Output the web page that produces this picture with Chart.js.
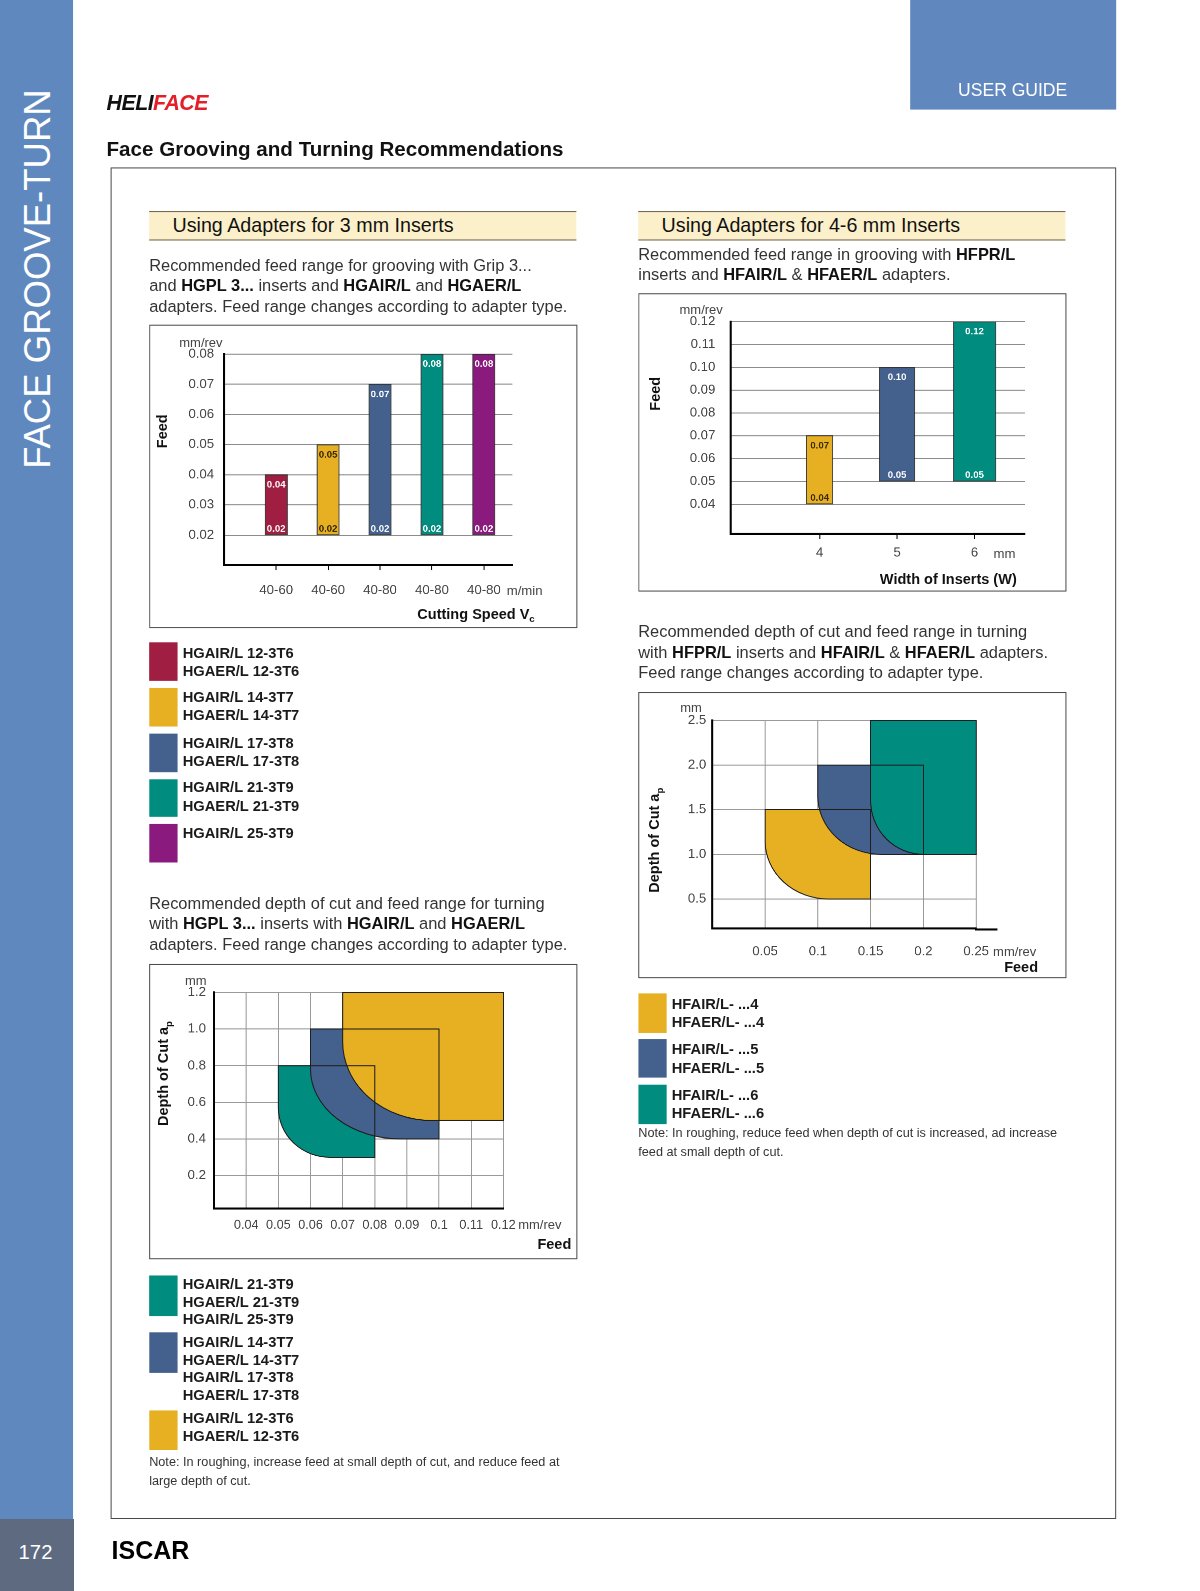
<!DOCTYPE html>
<html>
<head>
<meta charset="utf-8">
<script src="https://cdn.jsdelivr.net/npm/chart.js@4.4.1/dist/chart.umd.min.js"></script>
<style>
    body { margin: 0; width: 1200px; height: 1591px; position: relative; overflow: hidden; background: #fff;
           font-family: 'Liberation Sans', Arial, sans-serif; color: #222; }
    #page { position: absolute; left: 0; top: 0; width: 1183px; height: 1568px; transform: scale(1.0147); transform-origin: 0 0; }
    .abs { position: absolute; }
    .c { position: absolute; transform: translate(-50%, -50%); white-space: nowrap; }
    .r { position: absolute; transform: translate(-100%, -50%); white-space: nowrap; }
    .rot { position: absolute; transform: translate(-50%, -50%) rotate(-90deg); white-space: nowrap; }
    .box { position: absolute; border: 1px solid #4a4a4a; box-sizing: border-box; }
    .box > div { position: absolute; inset: 0; }
    .head { position: absolute; height: 29px; box-sizing: border-box; background: #fcf0cb;
            border-top: 1.5px solid #6b6350; border-bottom: 1.5px solid #6b6350;
            font-size: 19.4px; line-height: 26px; padding-left: 23px; color: #111; }
    .para { position: absolute; font-size: 16.2px; line-height: 20px; color: #333; white-space: nowrap; }
    .para b { color: #111; }
    .sw { position: absolute; left: 0; width: 28px; }
    .lg { position: absolute; font-size: 14.5px; font-weight: bold; line-height: 17.5px; color: #1a1a1a; white-space: nowrap; }
    .note { position: absolute; font-size: 12.5px; line-height: 17.5px; color: #333; white-space: nowrap; }
    .unit { font-size: 12.8px; color: #444; }
    .tick { font-size: 13px; color: #444; }
    .ttl { font-size: 14.3px; font-weight: bold; color: #111; }
</style>
</head>
<body>
<div id="page">

<!-- page frame -->
<div class="abs" style="left:0;top:0;width:72px;height:1497px;background:#5f88be"></div>
<div class="abs" style="left:0;top:1497px;width:72px;height:94px;background:#5d6a80"></div>
<div class="rot" style="left:37px;top:275px;font-size:36px;color:#fff;font-weight:300">FACE GROOVE-TURN</div>
<div class="c" style="left:35px;top:1530px;font-size:20px;color:#fff">172</div>
<div class="abs" style="left:897px;top:0;width:203px;height:108px;background:#6088be"></div>
<div class="c" style="left:998px;top:89px;font-size:17.3px;color:#fff">USER GUIDE</div>
<div class="abs" style="left:105px;top:89px;font-size:21px;font-weight:bold;font-style:italic;letter-spacing:-0.5px;line-height:24px">
    <span style="color:#111">HELI</span><span style="color:#e3202a">FACE</span>
</div>
<div class="abs" style="left:105px;top:135px;font-size:20.3px;font-weight:bold;color:#111;line-height:24px">Face Grooving and Turning Recommendations</div>
<div class="abs" style="left:109px;top:165px;width:991px;height:1332px;border:1px solid #4a4a4a;box-sizing:border-box"></div>
<div class="abs" style="left:110px;top:1514px;font-size:24.6px;font-weight:bold;color:#000;line-height:28px">ISCAR</div>

<!-- left column -->
<div class="head" style="left:147px;top:208px;width:421px">Using Adapters for 3 mm Inserts</div>
<div class="para" style="left:147px;top:251px">Recommended feed range for grooving with Grip 3...<br>and <b>HGPL 3...</b> inserts and <b>HGAIR/L</b> and <b>HGAER/L</b><br>adapters. Feed range changes according to adapter type.</div>

<div class="box" style="left:147px;top:320px;width:422px;height:299px"><div><canvas id="feed3"></canvas></div></div>
<div class="c unit" style="left:198px;top:337px">mm/rev</div>
<div class="rot ttl" style="left:160px;top:425px">Feed</div>
<div class="c tick" style="left:517px;top:582px">m/min</div>
<div class="r ttl" style="left:527px;top:606px">Cutting Speed V<sub style="font-size:9.5px">c</sub></div>

<div class="abs" style="left:147px;top:633px">
    <div class="sw" style="top:0;height:38px;background:#a01e42"></div>
    <div class="lg" style="left:33px;top:2px">HGAIR/L 12-3T6<br>HGAER/L 12-3T6</div>
    <div class="sw" style="top:45px;height:38px;background:#e6b022"></div>
    <div class="lg" style="left:33px;top:46px">HGAIR/L 14-3T7<br>HGAER/L 14-3T7</div>
    <div class="sw" style="top:90px;height:38px;background:#44608c"></div>
    <div class="lg" style="left:33px;top:91px">HGAIR/L 17-3T8<br>HGAER/L 17-3T8</div>
    <div class="sw" style="top:135px;height:37px;background:#008c7e"></div>
    <div class="lg" style="left:33px;top:135px">HGAIR/L 21-3T9<br>HGAER/L 21-3T9</div>
    <div class="sw" style="top:179px;height:38px;background:#8a1a7e"></div>
    <div class="lg" style="left:33px;top:180px">HGAIR/L 25-3T9</div>
</div>

<div class="para" style="left:147px;top:880px">Recommended depth of cut and feed range for turning<br>with <b>HGPL 3...</b> inserts with <b>HGAIR/L</b> and <b>HGAER/L</b><br>adapters. Feed range changes according to adapter type.</div>

<div class="box" style="left:147px;top:950px;width:422px;height:291px"><div><canvas id="turn3"></canvas></div></div>
<div class="c unit" style="left:193px;top:966px">mm</div>
<div class="rot ttl" style="left:162px;top:1058px">Depth of Cut a<sub style="font-size:9.5px">p</sub></div>
<div class="c unit" style="left:532px;top:1207px">mm/rev</div>
<div class="r ttl" style="left:563px;top:1226px">Feed</div>

<div class="abs" style="left:147px;top:1257px">
    <div class="sw" style="top:0;height:40px;background:#008c7e"></div>
    <div class="lg" style="left:33px;top:0">HGAIR/L 21-3T9<br>HGAER/L 21-3T9<br>HGAIR/L 25-3T9</div>
    <div class="sw" style="top:56px;height:40px;background:#44608c"></div>
    <div class="lg" style="left:33px;top:57px">HGAIR/L 14-3T7<br>HGAER/L 14-3T7<br>HGAIR/L 17-3T8<br>HGAER/L 17-3T8</div>
    <div class="sw" style="top:133px;height:39px;background:#e6b022"></div>
    <div class="lg" style="left:33px;top:132px">HGAIR/L 12-3T6<br>HGAER/L 12-3T6</div>
</div>
<div class="note" style="left:147px;top:1433px">Note: In roughing, increase feed at small depth of cut, and reduce feed at<br>large depth of cut.</div>

<!-- right column -->
<div class="head" style="left:629px;top:208px;width:421px">Using Adapters for 4-6 mm Inserts</div>
<div class="para" style="left:629px;top:240px">Recommended feed range in grooving with <b>HFPR/L</b><br>inserts and <b>HFAIR/L</b> &amp; <b>HFAER/L</b> adapters.</div>

<div class="box" style="left:629px;top:289px;width:422px;height:294px"><div><canvas id="feed46"></canvas></div></div>
<div class="c unit" style="left:691px;top:305px">mm/rev</div>
<div class="rot ttl" style="left:645px;top:388px">Feed</div>
<div class="c tick" style="left:990px;top:545px">mm</div>
<div class="r ttl" style="left:1002px;top:571px">Width of Inserts (W)</div>

<div class="para" style="left:629px;top:612px">Recommended depth of cut and feed range in turning<br>with <b>HFPR/L</b> inserts and <b>HFAIR/L</b> &amp; <b>HFAER/L</b> adapters.<br>Feed range changes according to adapter type.</div>

<div class="box" style="left:629px;top:682px;width:422px;height:282px"><div><canvas id="turn46"></canvas></div></div>
<div class="c unit" style="left:681px;top:697px">mm</div>
<div class="rot ttl" style="left:646px;top:828px">Depth of Cut a<sub style="font-size:9.5px">p</sub></div>
<div class="c unit" style="left:1000px;top:938px">mm/rev</div>
<div class="r ttl" style="left:1023px;top:953px">Feed</div>

<div class="abs" style="left:629px;top:979px">
    <div class="sw" style="top:0;height:39px;background:#e6b022"></div>
    <div class="lg" style="left:33px;top:2px">HFAIR/L- ...4<br>HFAER/L- ...4</div>
    <div class="sw" style="top:45px;height:38px;background:#44608c"></div>
    <div class="lg" style="left:33px;top:47px">HFAIR/L- ...5<br>HFAER/L- ...5</div>
    <div class="sw" style="top:90px;height:39px;background:#008c7e"></div>
    <div class="lg" style="left:33px;top:92px">HFAIR/L- ...6<br>HFAER/L- ...6</div>
</div>
<div class="note" style="left:629px;top:1109px">Note: In roughing, reduce feed when depth of cut is increased, ad increase<br>feed at small depth of cut.</div>

</div>

<script>
// grooving, 3 mm inserts
const speedRanges = ['40-60', '40-60', '40-80', '40-80', '40-80'];
const grooveFeedLow3 = [0.02, 0.02, 0.02, 0.02, 0.02];
const grooveFeedHigh3 = [0.04, 0.05, 0.07, 0.08, 0.08];
const grooveFeedTicks3 = [0.02, 0.03, 0.04, 0.05, 0.06, 0.07, 0.08];

// grooving, 4-6 mm inserts
const insertWidths = [4, 5, 6];
const grooveFeedLow46 = [0.04, 0.05, 0.05];
const grooveFeedHigh46 = [0.07, 0.10, 0.12];
const grooveFeedTicks46 = [0.04, 0.05, 0.06, 0.07, 0.08, 0.09, 0.10, 0.11, 0.12];

// turning, 3 mm inserts (teal, blue, yellow adapters)
const turnFeedMin3 = [0.05, 0.06, 0.07];
const turnFeedMax3 = [0.08, 0.10, 0.12];
const turnDepthMin3 = [0.3, 0.4, 0.5];
const turnDepthMax3 = [0.8, 1.0, 1.2];
const turnCornerFeed3 = [0.066, 0.088, 0.098];   // where the rounded corner meets the lower edge
const turnCornerDepth3 = [0.57, 0.78, 0.93];     // where it leaves the left edge
const turnFeedTicks3 = [0.04, 0.05, 0.06, 0.07, 0.08, 0.09, 0.1, 0.11, 0.12];
const turnDepthTicks3 = [0.2, 0.4, 0.6, 0.8, 1.0, 1.2];

// turning, 4-6 mm inserts (yellow, blue, teal adapters)
const turnFeedMin46 = [0.05, 0.10, 0.15];
const turnFeedMax46 = [0.15, 0.20, 0.25];
const turnDepthMin46 = [0.5, 1.0, 1.0];
const turnDepthMax46 = [1.5, 2.0, 2.5];
const turnCornerFeed46 = [0.11, 0.16, 0.20];
const turnCornerDepth46 = [1.15, 1.65, 1.6];
const turnFeedTicks46 = [0.05, 0.1, 0.15, 0.2, 0.25];
const turnDepthTicks46 = [0.5, 1.0, 1.5, 2.0, 2.5];

const FONT = "'Liberation Sans', Arial, sans-serif";
const RED = '#a01e42', YELLOW = '#e6b022', BLUE = '#44608c', TEAL = '#008c7e', PURPLE = '#8a1a7e';

Chart.defaults.font.family = FONT;
Chart.defaults.animation = false;
Chart.defaults.events = [];
Chart.defaults.devicePixelRatio = 2;
Chart.defaults.maintainAspectRatio = false;
Chart.defaults.plugins.legend.display = false;
Chart.defaults.plugins.tooltip.enabled = false;

const fixWidth = w => scale => { scale.width = w; };
const fixHeight = h => scale => { scale.height = h; };
const setTicks = values => scale => { scale.ticks = values.map(v => ({ value: v })); };

// min / max written inside each floating bar
const barLabels = {
    id: 'barLabels',
    afterDatasetsDraw(chart) {
        const ctx = chart.ctx;
        ctx.save();
        ctx.font = 'bold 9.5px ' + FONT;
        ctx.textAlign = 'center';
        ctx.textBaseline = 'middle';
        chart.data.datasets.forEach((ds, di) => {
            chart.getDatasetMeta(di).data.forEach((bar, i) => {
                const [lo, hi] = ds.data[i].y;
                const colour = Array.isArray(ds.backgroundColor) ? ds.backgroundColor[i] : ds.backgroundColor;
                const top = Math.min(bar.y, bar.base), bottom = Math.max(bar.y, bar.base);
                ctx.fillStyle = colour === YELLOW ? '#3a2a05' : '#fff';
                ctx.fillText(hi.toFixed(2), bar.x, top + 10);
                ctx.fillText(lo.toFixed(2), bar.x, bottom - 6);
            });
        });
        ctx.restore();
    }
};

// rectangle with a rounded lower-left corner, from the 5 points of each dataset
const roundedRegions = {
    id: 'roundedRegions',
    afterDatasetsDraw(chart) {
        const ctx = chart.ctx;
        const paths = chart.data.datasets.map((ds, di) => {
            const p = chart.getDatasetMeta(di).data;
            const path = new Path2D();
            path.moveTo(p[0].x, p[0].y);
            path.lineTo(p[1].x, p[1].y);
            path.ellipse(p[2].x, p[1].y, p[2].x - p[1].x, p[2].y - p[1].y, 0, Math.PI, Math.PI / 2, true);
            path.lineTo(p[3].x, p[3].y);
            path.lineTo(p[4].x, p[4].y);
            path.closePath();
            return path;
        });
        ctx.save();
        paths.forEach((path, i) => {
            ctx.fillStyle = chart.data.datasets[i].backgroundColor;
            ctx.fill(path);
        });
        ctx.strokeStyle = '#1e1e1e';
        ctx.lineWidth = 1;
        paths.forEach(path => ctx.stroke(path));
        ctx.restore();
    }
};

const extendXAxis = px => ({
    id: 'extendXAxis',
    afterDraw(chart) {
        const { ctx, chartArea } = chart;
        ctx.save();
        ctx.strokeStyle = '#000';
        ctx.lineWidth = 2;
        ctx.beginPath();
        ctx.moveTo(chartArea.right - 1, chartArea.bottom + 1);
        ctx.lineTo(chartArea.right + px, chartArea.bottom + 1);
        ctx.stroke();
        ctx.restore();
    }
});

const tickFont = { family: FONT, size: 13 };
const axisBorder = { display: true, color: '#000', width: 2 };

function regionDatasets(fMin, fMax, dMin, dMax, cFeed, cDepth, colours) {
    return colours.map((colour, i) => ({
        backgroundColor: colour,
        pointRadius: 0,
        showLine: false,
        data: [
            { x: fMin[i], y: dMax[i] },
            { x: fMin[i], y: cDepth[i] },
            { x: cFeed[i], y: dMin[i] },
            { x: fMax[i], y: dMin[i] },
            { x: fMax[i], y: dMax[i] }
        ]
    }));
}

// grooving 3 mm
new Chart(document.getElementById('feed3'), {
    type: 'bar',
    data: {
        datasets: [{
            data: speedRanges.map((s, i) => ({ x: i + 1, y: [grooveFeedLow3[i], grooveFeedHigh3[i]] })),
            backgroundColor: [RED, YELLOW, BLUE, TEAL, PURPLE],
            borderColor: 'rgba(30,30,30,0.85)',
            borderWidth: 1,
            borderSkipped: false,
            barThickness: 22
        }]
    },
    options: {
        layout: { padding: { left: 0, top: 28, right: 63, bottom: 0 } },
        scales: {
            x: {
                type: 'linear', min: 0, max: 5.55, offset: false,
                afterBuildTicks: setTicks(speedRanges.map((s, i) => i + 1)),
                afterFit: fixHeight(61),
                border: axisBorder,
                grid: { drawOnChartArea: false, drawTicks: true, tickLength: 5, color: '#000', offset: false },
                ticks: { color: '#444', font: tickFont, padding: 12, maxRotation: 0,
                         callback: v => speedRanges[v - 1] }
            },
            y: {
                min: 0.01, max: 0.08,
                afterBuildTicks: setTicks(grooveFeedTicks3),
                afterFit: fixWidth(73),
                border: axisBorder,
                grid: { color: '#8c8c8c', drawTicks: false },
                ticks: { color: '#444', font: tickFont, padding: 10, callback: v => v.toFixed(2) }
            }
        }
    },
    plugins: [barLabels]
});

// grooving 4-6 mm
const widthBarSizes = [26, 35, 42];
const widthColours = [YELLOW, BLUE, TEAL];
new Chart(document.getElementById('feed46'), {
    type: 'bar',
    data: {
        datasets: insertWidths.map((w, i) => ({
            data: [{ x: w, y: [grooveFeedLow46[i], grooveFeedHigh46[i]] }],
            backgroundColor: widthColours[i],
            borderColor: 'rgba(30,30,30,0.85)',
            borderWidth: 1,
            borderSkipped: false,
            barThickness: widthBarSizes[i]
        }))
    },
    options: {
        layout: { padding: { left: 0, top: 27, right: 40, bottom: 0 } },
        scales: {
            x: {
                type: 'linear', min: 2.85, max: 6.65, stacked: true, offset: false,
                afterBuildTicks: setTicks(insertWidths),
                afterFit: fixHeight(56),
                border: axisBorder,
                grid: { drawOnChartArea: false, drawTicks: true, tickLength: 5, color: '#000', offset: false },
                ticks: { color: '#444', font: tickFont, padding: 6, callback: v => String(v) }
            },
            y: {
                min: 0.027, max: 0.12,
                afterBuildTicks: setTicks(grooveFeedTicks46),
                afterFit: fixWidth(90),
                border: axisBorder,
                grid: { color: '#8c8c8c', drawTicks: false },
                ticks: { color: '#444', font: tickFont, padding: 15, callback: v => v.toFixed(2) }
            }
        }
    },
    plugins: [barLabels]
});

// turning 3 mm
new Chart(document.getElementById('turn3'), {
    type: 'scatter',
    data: {
        datasets: regionDatasets(turnFeedMin3, turnFeedMax3, turnDepthMin3, turnDepthMax3,
                                 turnCornerFeed3, turnCornerDepth3, [TEAL, BLUE, YELLOW])
    },
    options: {
        layout: { padding: { left: 0, top: 27, right: 72, bottom: 0 } },
        scales: {
            x: {
                type: 'linear', min: 0.03, max: 0.12,
                afterBuildTicks: setTicks(turnFeedTicks3),
                afterFit: fixHeight(49),
                border: axisBorder,
                grid: { color: '#9a9a9a', drawTicks: false },
                ticks: { color: '#444', font: { family: FONT, size: 12.5 }, padding: 9, callback: v => String(v) }
            },
            y: {
                min: 0.02, max: 1.2,
                afterBuildTicks: setTicks(turnDepthTicks3),
                afterFit: fixWidth(63),
                border: axisBorder,
                grid: { color: '#9a9a9a', drawTicks: false },
                ticks: { color: '#444', font: tickFont, padding: 8, callback: v => v.toFixed(1) }
            }
        }
    },
    plugins: [roundedRegions]
});

// turning 4-6 mm
new Chart(document.getElementById('turn46'), {
    type: 'scatter',
    data: {
        datasets: regionDatasets(turnFeedMin46, turnFeedMax46, turnDepthMin46, turnDepthMax46,
                                 turnCornerFeed46, turnCornerDepth46, [YELLOW, BLUE, TEAL])
    },
    options: {
        layout: { padding: { left: 0, top: 27, right: 88, bottom: 0 } },
        scales: {
            x: {
                type: 'linear', min: 0, max: 0.25,
                afterBuildTicks: setTicks(turnFeedTicks46),
                afterFit: fixHeight(48),
                border: axisBorder,
                grid: { color: '#9a9a9a', drawTicks: false },
                ticks: { color: '#444', font: tickFont, padding: 15, callback: v => String(v) }
            },
            y: {
                min: 0.17, max: 2.5,
                afterBuildTicks: setTicks(turnDepthTicks46),
                afterFit: fixWidth(72),
                border: axisBorder,
                grid: { color: '#9a9a9a', drawTicks: false },
                ticks: { color: '#444', font: tickFont, padding: 6, callback: v => v.toFixed(1) }
            }
        }
    },
    plugins: [roundedRegions, extendXAxis(21)]
});
</script>
</body>
</html>
